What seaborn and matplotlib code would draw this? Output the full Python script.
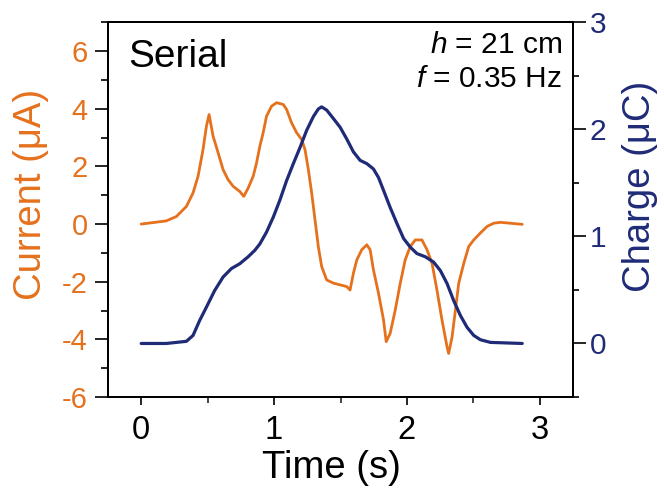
import numpy as np
import pandas as pd
import matplotlib
matplotlib.use("Agg")
import matplotlib.pyplot as plt
from matplotlib.ticker import MultipleLocator
import seaborn as sns

# ---- data ----
time_current = [0.000, 0.189, 0.264, 0.340, 0.390, 0.428, 0.465, 0.491, 0.511, 0.541,
                0.579, 0.616, 0.654, 0.692, 0.742, 0.772, 0.805, 0.843, 0.868, 0.893,
                0.918, 0.943, 0.981, 1.019, 1.069, 1.094, 1.132, 1.170, 1.208, 1.233,
                1.258, 1.283, 1.308, 1.333, 1.358, 1.396, 1.447, 1.497, 1.547, 1.572,
                1.597, 1.623, 1.660, 1.698, 1.723, 1.748, 1.786, 1.824, 1.844, 1.874,
                1.912, 1.950, 1.987, 2.025, 2.063, 2.113, 2.151, 2.189, 2.226, 2.264,
                2.302, 2.314, 2.340, 2.365, 2.390, 2.428, 2.465, 2.503, 2.553, 2.604,
                2.654, 2.704, 2.868]
current_uA = [0.00, 0.11, 0.26, 0.61, 1.08, 1.66, 2.58, 3.40, 3.80, 3.05,
              2.47, 1.89, 1.54, 1.31, 1.13, 0.96, 1.25, 1.66, 2.12, 2.70,
              3.17, 3.74, 4.09, 4.21, 4.15, 3.98, 3.51, 3.17, 2.93, 2.58,
              1.89, 1.08, 0.15, -0.78, -1.47, -1.94, -2.05, -2.11, -2.17, -2.29,
              -1.71, -1.24, -0.89, -0.72, -0.89, -1.59, -2.40, -3.33, -4.08, -3.79,
              -2.98, -2.05, -1.24, -0.78, -0.55, -0.55, -0.89, -1.36, -2.29, -3.33,
              -4.26, -4.49, -3.91, -2.98, -2.05, -1.36, -0.78, -0.55, -0.31, -0.08,
              0.03, 0.06, -0.01]

time_charge = [0.000, 0.189, 0.340, 0.390, 0.440, 0.491, 0.553, 0.616, 0.679, 0.742,
               0.805, 0.855, 0.893, 0.943, 0.994, 1.044, 1.094, 1.145, 1.195, 1.245,
               1.296, 1.333, 1.358, 1.396, 1.447, 1.497, 1.547, 1.597, 1.648, 1.698,
               1.748, 1.786, 1.824, 1.874, 1.925, 1.975, 2.025, 2.075, 2.138, 2.201,
               2.252, 2.302, 2.352, 2.403, 2.453, 2.503, 2.553, 2.629, 2.868]
charge_uC = [0.00, 0.00, 0.02, 0.075, 0.215, 0.34, 0.495, 0.62, 0.70, 0.745,
             0.81, 0.87, 0.93, 1.04, 1.18, 1.34, 1.52, 1.68, 1.83, 1.99,
             2.12, 2.19, 2.21, 2.18, 2.10, 2.02, 1.91, 1.79, 1.71, 1.68,
             1.63, 1.55, 1.43, 1.27, 1.12, 0.98, 0.90, 0.84, 0.81, 0.76,
             0.68, 0.56, 0.40, 0.26, 0.15, 0.075, 0.035, 0.01, 0.00]

x_ticks = [0, 1, 2, 3]
left_ticks = [-6, -4, -2, 0, 2, 4, 6]
right_ticks = [0, 1, 2, 3]

ORANGE = "#E5711D"
NAVY = "#1F2B77"

sns.set_style("white")
plt.rcParams["font.family"] = ["Liberation Sans", "DejaVu Sans"]
plt.rcParams["mathtext.fontset"] = "custom"
plt.rcParams["mathtext.rm"] = "Liberation Sans"
plt.rcParams["mathtext.it"] = "Liberation Sans:italic"

df_i = pd.DataFrame({"t": time_current, "I": current_uA})
df_q = pd.DataFrame({"t": time_charge, "Q": charge_uC})

fig = plt.figure(figsize=(6.64, 4.88), dpi=100)
ax = fig.add_axes([108 / 664, 1 - 397 / 488, 465 / 664, 374.7 / 488])
ax2 = ax.twinx()

sns.lineplot(data=df_i, x="t", y="I", ax=ax, color=ORANGE, lw=2.0,
             estimator=None, sort=False)
sns.lineplot(data=df_q, x="t", y="Q", ax=ax2, color=NAVY, lw=2.3,
             estimator=None, sort=False)

ax.set_xlim(-0.25, 3.25)
ax.set_ylim(-6, 7)
ax2.set_ylim(-0.5, 3)

ax.set_xticks(x_ticks)
ax.set_xticklabels([str(v) for v in x_ticks])
ax.xaxis.set_minor_locator(MultipleLocator(0.5))
ax.set_yticks(left_ticks)
ax.set_yticklabels([str(v) for v in left_ticks])
ax.yaxis.set_minor_locator(MultipleLocator(1))
ax2.set_yticks(right_ticks)
ax2.set_yticklabels([str(v) for v in right_ticks])
ax2.yaxis.set_minor_locator(MultipleLocator(0.5))

for a in (ax, ax2):
    for s in a.spines.values():
        s.set_linewidth(1.4)
        s.set_color("black")

ax.tick_params(axis="x", which="major", direction="out", length=6, width=1.2,
               labelsize=23.5, pad=7, colors="black", bottom=True)
ax.tick_params(axis="x", which="minor", direction="out", length=4.3, width=1.2,
               bottom=True)
ax.tick_params(axis="y", which="major", direction="out", length=9.5, width=1.2,
               labelsize=21, pad=5, color="black", labelcolor=ORANGE, left=True)
ax.tick_params(axis="y", which="minor", direction="out", length=4.7, width=1.2,
               color="black", left=True)
ax2.tick_params(axis="y", which="major", direction="out", length=9, width=1.2,
                labelsize=21.5, pad=3, color="black", labelcolor=NAVY, right=True)
ax2.tick_params(axis="y", which="minor", direction="out", length=4.3, width=1.2,
                color="black", right=True)

ax.set_xlabel("Time (s)", fontsize=27.5, color="black")
ax.xaxis.label.set_verticalalignment("center")
ax.xaxis.set_label_coords(0.481, -0.19)

ax.set_ylabel("Current (μA)", fontsize=27.5, color=ORANGE)
ax.yaxis.label.set_verticalalignment("center")
ax.yaxis.set_label_coords(-0.166, 0.54)

ax2.set_ylabel("Charge (μC)", fontsize=27.5, color=NAVY, rotation=90)
ax2.yaxis.label.set_verticalalignment("center")
ax2.yaxis.set_label_coords(1.144, 0.563)

ax.text(0.043, 0.881, "Serial", transform=ax.transAxes, fontsize=28,
        ha="left", va="baseline", color="black")
ax.text(0.976, 0.919, "$h$ = 21 cm", transform=ax.transAxes, fontsize=21.5,
        ha="right", va="baseline", color="black")
ax.text(0.976, 0.828, "$f$ = 0.35 Hz", transform=ax.transAxes, fontsize=21.5,
        ha="right", va="baseline", color="black")

fig.savefig("out.png", dpi=100)
